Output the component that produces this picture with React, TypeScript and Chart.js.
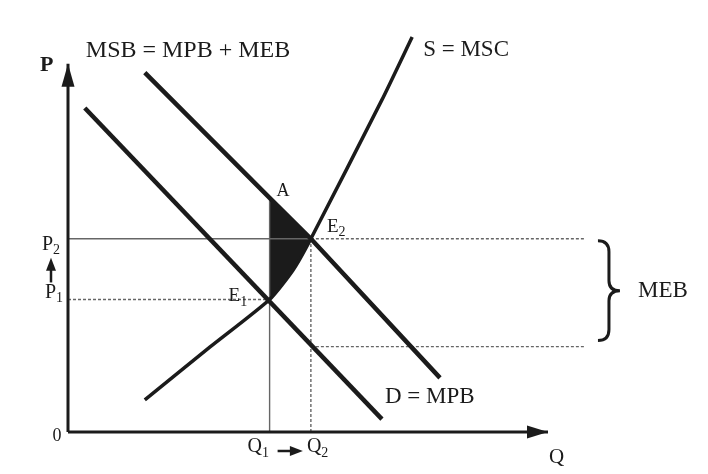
import React, { useEffect, useRef } from 'react';
import { Chart, registerables } from 'chart.js';

Chart.register(...registerables);

// ---- Diagram values (quantity Q on x, price P on y, in diagram units) ----
const Q_AXIS_MAX = 100;
const P_AXIS_MAX = 100;
const GUIDE_END_Q = 107.7;

const Q1 = 42;
const Q2 = 50.6;
const P1 = 36;
const P2 = 52.5;
const P_A = 63.6;
const P_MEB_LOW = 23.2;

const demandQ = [3.5, 65.4];
const demandP = [88, 3.5];

const msbQ = [16, 42, 50.6, 77.5];
const msbP = [97.6, 63.6, 52.5, 14.7];

const supplyQ = [16, 29.6, 42, 46.9, 50.6, 65.4, 71.7];
const supplyP = [8.7, 23.1, 36, 44, 52.5, 90.2, 107.3];

// S between E1 and E2 (edge of the shaded area)
const shadeEdgeQ = [42, 46.9, 50.6];
const shadeEdgeP = [36, 44, 52.5];

const curveLabels = ['MSB = MPB + MEB', 'S = MSC', 'D = MPB'];
const axisLabels = ['P', 'Q', '0'];
const priceTicks = [['P', '2'], ['P', '1']];
const qtyTicks = [['Q', '1'], ['Q', '2']];
const pointLabels = ['A', 'E', '1', 'E', '2'];
const braceLabel = 'MEB';

const INK = '#1b1b1b';
const GUIDE = '#666666';
const FONT = '"Liberation Serif", "Times New Roman", serif';

const pts = (qs: number[], ps: number[]) => qs.map((q, i) => ({ x: q, y: ps[i] }));

const line = (label: string, data: { x: number; y: number }[], width: number, color: string, dash: number[] = [], extra: any = {}) => ({
  label,
  data,
  showLine: true,
  borderColor: color,
  backgroundColor: color,
  borderWidth: width,
  borderDash: dash,
  borderCapStyle: 'butt',
  pointRadius: 0,
  pointHoverRadius: 0,
  fill: false,
  clip: false,
  ...extra,
});

function drawLabel(ctx: CanvasRenderingContext2D, main: string, sub: string, x: number, y: number, size: number, weight = 'normal') {
  ctx.font = `${weight} ${size}px ${FONT}`;
  ctx.textAlign = 'left';
  ctx.textBaseline = 'middle';
  ctx.fillText(main, x, y);
  if (sub) {
    const w = ctx.measureText(main).width;
    ctx.font = `${weight} ${Math.round(size * 0.72)}px ${FONT}`;
    ctx.fillText(sub, x + w, y + size * 0.3);
  }
}

const annotate = {
  id: 'annotate',
  beforeDraw(chart: any) {
    const { ctx, width, height } = chart;
    ctx.save();
    ctx.fillStyle = '#ffffff';
    ctx.fillRect(0, 0, width, height);
    ctx.restore();
  },
  afterDatasetsDraw(chart: any) {
    const { ctx } = chart;
    const xs = chart.scales.x;
    const ys = chart.scales.y;
    const px = (q: number) => xs.getPixelForValue(q);
    const py = (p: number) => ys.getPixelForValue(p);
    ctx.save();
    ctx.fillStyle = INK;
    ctx.strokeStyle = INK;

    // axis arrowheads
    const ox = px(0);
    const oy = py(0);
    const yTip = py(P_AXIS_MAX);
    ctx.beginPath();
    ctx.moveTo(ox, yTip);
    ctx.lineTo(ox - 6.5, yTip + 23);
    ctx.lineTo(ox + 6.5, yTip + 23);
    ctx.closePath();
    ctx.fill();
    const xTip = px(Q_AXIS_MAX);
    ctx.beginPath();
    ctx.moveTo(xTip, oy);
    ctx.lineTo(xTip - 21, oy - 6.5);
    ctx.lineTo(xTip - 21, oy + 6.5);
    ctx.closePath();
    ctx.fill();

    // axis labels
    drawLabel(ctx, axisLabels[0], '', ox - 28, yTip + 1, 22, 'bold');
    drawLabel(ctx, axisLabels[1], '', xTip + 1, oy + 25, 21);
    ctx.font = `18px ${FONT}`;
    ctx.textAlign = 'center';
    ctx.textBaseline = 'middle';
    ctx.fillText(axisLabels[2], ox - 11, oy + 4);

    // curve labels
    drawLabel(ctx, curveLabels[0], '', px(msbQ[0]) - 59, py(msbP[0]) - 22, 24);
    const sEnd = supplyQ.length - 1;
    drawLabel(ctx, curveLabels[1], '', px(supplyQ[sEnd]) + 11, py(supplyP[sEnd]) + 13, 23);
    drawLabel(ctx, curveLabels[2], '', px(demandQ[1]) + 3, py(demandP[1]) - 22, 23);

    // point labels
    drawLabel(ctx, pointLabels[0], '', px(Q1) + 7, py(P_A) - 7, 18);
    drawLabel(ctx, pointLabels[1], pointLabels[2], px(Q1) - 41, py(P1) - 3, 19);
    drawLabel(ctx, pointLabels[3], pointLabels[4], px(Q2) + 16, py(P2) - 12, 19);

    // price tick labels + arrow
    drawLabel(ctx, priceTicks[0][0], priceTicks[0][1], ox - 26, py(P2) + 6, 20);
    drawLabel(ctx, priceTicks[1][0], priceTicks[1][1], ox - 23, py(P1) - 7, 20);
    const ax = ox - 17;
    ctx.lineWidth = 2.5;
    ctx.beginPath();
    ctx.moveTo(ax, py(P1) - 17);
    ctx.lineTo(ax, py(P2) + 30);
    ctx.stroke();
    ctx.beginPath();
    ctx.moveTo(ax, py(P2) + 19);
    ctx.lineTo(ax - 5, py(P2) + 32);
    ctx.lineTo(ax + 5, py(P2) + 32);
    ctx.closePath();
    ctx.fill();

    // quantity tick labels + arrow
    drawLabel(ctx, qtyTicks[0][0], qtyTicks[0][1], px(Q1) - 22, oy + 15, 20);
    drawLabel(ctx, qtyTicks[1][0], qtyTicks[1][1], px(Q2) - 4, oy + 15, 20);
    const ay = oy + 19;
    ctx.beginPath();
    ctx.moveTo(px(Q1) + 8, ay);
    ctx.lineTo(px(Q2) - 18, ay);
    ctx.stroke();
    ctx.beginPath();
    ctx.moveTo(px(Q2) - 8, ay);
    ctx.lineTo(px(Q2) - 21, ay - 5);
    ctx.lineTo(px(Q2) - 21, ay + 5);
    ctx.closePath();
    ctx.fill();

    // MEB brace
    const bx0 = px(GUIDE_END_Q) + 13;
    const bxm = bx0 + 11;
    const bxt = bx0 + 22;
    const top = py(P2) + 2;
    const bot = py(P_MEB_LOW) - 6;
    const mid = (top + bot) / 2;
    ctx.lineWidth = 3;
    ctx.beginPath();
    ctx.moveTo(bx0, top);
    ctx.quadraticCurveTo(bxm, top, bxm, top + 11);
    ctx.lineTo(bxm, mid - 10);
    ctx.quadraticCurveTo(bxm, mid, bxt, mid);
    ctx.quadraticCurveTo(bxm, mid, bxm, mid + 10);
    ctx.lineTo(bxm, bot - 11);
    ctx.quadraticCurveTo(bxm, bot, bx0, bot);
    ctx.stroke();
    drawLabel(ctx, braceLabel, '', bxt + 18, mid, 23);

    ctx.restore();
  },
};

export default function App() {
  const ref = useRef<HTMLCanvasElement | null>(null);

  useEffect(() => {
    if (!ref.current) return;
    const datasets: any[] = [
      line('Y axis', pts([0, 0], [0, P_AXIS_MAX]), 3, INK),
      line('X axis', pts([0, Q_AXIS_MAX], [0, 0]), 3, INK),
      line('D = MPB', pts(demandQ, demandP), 4.5, INK),
      line('MSB = MPB + MEB', pts(msbQ, msbP), 4.5, INK),
      line('S = MSC', pts(supplyQ, supplyP), 3.5, INK, [], { tension: 0.2 }),
      line('P2 guide', pts([0, Q2], [P2, P2]), 1.4, GUIDE),
      line('P2 guide ext', pts([Q2, GUIDE_END_Q], [P2, P2]), 1.4, GUIDE, [3, 2]),
      line('P1 guide', pts([0, Q1], [P1, P1]), 1.4, GUIDE, [3, 2]),
      line('MEB low guide', pts([Q2, GUIDE_END_Q], [P_MEB_LOW, P_MEB_LOW]), 1.4, GUIDE, [3, 2]),
      line('Q1 guide', pts([Q1, Q1], [0, P_A]), 1.4, GUIDE),
      line('Q2 guide', pts([Q2, Q2], [0, P2]), 1.4, GUIDE, [3, 2]),
      line('Shade top', pts([Q1, Q2], [P_A, P2]), 0, INK, [], { fill: '+1', backgroundColor: INK }),
      line('Shade bottom', pts(shadeEdgeQ, shadeEdgeP), 0, INK, [], { tension: 0.2 }),
    ];

    const chart = new Chart(ref.current, {
      type: 'scatter',
      data: { datasets },
      options: {
        responsive: false,
        animation: false,
        events: [],
        layout: { padding: { left: 68, right: 64, top: 27, bottom: 42 } },
        scales: {
          x: { type: 'linear', min: 0, max: 120, display: false },
          y: { type: 'linear', min: 0, max: 110, display: false },
        },
        plugins: {
          legend: { display: false },
          tooltip: { enabled: false },
        },
      },
      plugins: [annotate],
    } as any);

    return () => chart.destroy();
  }, []);

  return (
    <div style={{ position: 'absolute', left: 0, top: 0, width: 708, height: 474, background: '#fff' }}>
      <canvas ref={ref} width={708} height={474} style={{ display: 'block', width: 708, height: 474 }} />
    </div>
  );
}
